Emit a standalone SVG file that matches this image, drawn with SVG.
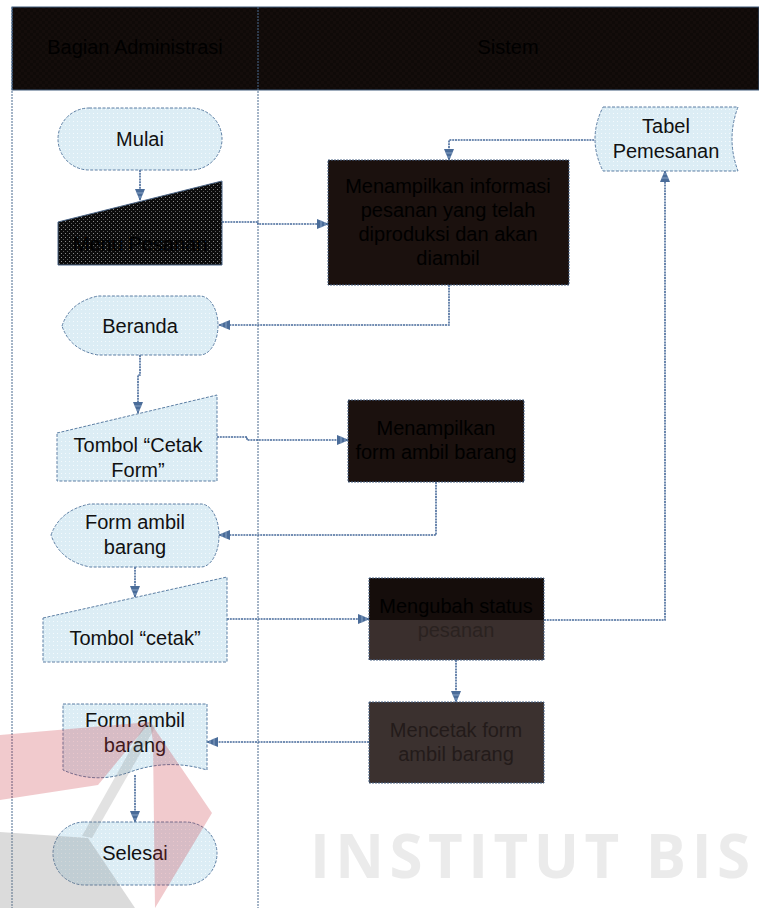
<svg xmlns="http://www.w3.org/2000/svg" width="759" height="908" viewBox="0 0 759 908">
  <defs>
    <pattern id="dotsLight" width="4" height="4" patternUnits="userSpaceOnUse">
      <rect width="4" height="4" fill="#dcedf5"/>
      <rect x="1" y="1" width="1" height="1" fill="#f4fafd"/>
    </pattern>
    <pattern id="dotsDark" width="4" height="4" patternUnits="userSpaceOnUse">
      <rect width="4" height="4" fill="#0c0c0c"/>
      <rect x="1" y="1" width="1" height="1" fill="#8a8a8a"/>
      <rect x="3" y="3" width="1" height="1" fill="#5a5a5a"/>
    </pattern>
    <pattern id="checkHead" width="6" height="6" patternUnits="userSpaceOnUse">
      <rect width="6" height="6" fill="#0f0a08"/>
      <rect x="0" y="0" width="3" height="3" fill="#140d0b"/>
      <rect x="3" y="3" width="3" height="3" fill="#140d0b"/>
    </pattern>
    <marker id="arrow" viewBox="0 0 12 10" refX="11" refY="5" markerWidth="12" markerHeight="10" markerUnits="userSpaceOnUse" orient="auto">
      <path d="M0 0 L12 5 L0 10 Z" fill="#4a6c99"/>
      <path d="M4 1.5 V8.5 M8 3 V7" stroke="#9db4d0" stroke-width="0.8"/>
    </marker>
    <style>
      .lane { stroke: #4b6a8f; stroke-width: 1; stroke-dasharray: 2 1; fill: none; }
      .light { fill: url(#dotsLight); stroke: #5d7fa4; stroke-width: 1; stroke-dasharray: 3 1.5; }
      .proc { stroke: #4a6486; stroke-width: 1; stroke-dasharray: 2 1; }
      .conn { fill: none; stroke: #46699a; stroke-width: 1.6; stroke-dasharray: 2 0.8; marker-end: url(#arrow); }
      .lbl { font-family: "Liberation Sans", Arial, sans-serif; font-size: 20px; fill: #111; text-anchor: middle; }
      .dk { fill: #000; }
    </style>
  </defs>

  <rect width="759" height="908" fill="#ffffff"/>

  <!-- swimlane header and lanes -->
  <g id="lanes">
    <rect x="12" y="7" width="747" height="83" fill="url(#checkHead)" stroke="#3e5a7a" stroke-width="1"/>
    <line class="lane" x1="12" y1="7" x2="12" y2="908"/>
    <line class="lane" x1="258" y1="7" x2="258" y2="908"/>
    <text class="lbl dk" x="135" y="54">Bagian Administrasi</text>
    <text class="lbl dk" x="508" y="54">Sistem</text>
  </g>

  <!-- connectors -->
  <g id="connectors">
    <path class="conn" d="M140 170 V200"/>
    <path class="conn" d="M222 222 H258 V224 H328"/>
    <path class="conn" d="M597 140 H449 V160"/>
    <path class="conn" d="M449 285 V325 H219"/>
    <path class="conn" d="M140 355 V375 H138 V413"/>
    <path class="conn" d="M217 437 H247 V440 H348"/>
    <path class="conn" d="M436 482 V535 H219"/>
    <path class="conn" d="M135 567 V597"/>
    <path class="conn" d="M227 619 H369"/>
    <path class="conn" d="M544 620 H665 V171"/>
    <path class="conn" d="M456 660 V702"/>
    <path class="conn" d="M369 742 H207"/>
    <path class="conn" d="M135 775 V822"/>
  </g>

  <g id="mulai">
    <rect class="light" x="58" y="108" width="164" height="62" rx="31" ry="31"/>
    <text class="lbl" x="140" y="146">Mulai</text>
  </g>

  <g id="menu-pesanan">
    <path d="M58 222 L222 181 V265 H58 Z" fill="url(#dotsDark)" stroke="#4a6486" stroke-width="1"/>
    <text class="lbl dk" x="140" y="251">Menu Pesanan</text>
  </g>

  <g id="tampil-informasi">
    <rect class="proc" x="328" y="160" width="241" height="125" fill="#1b110e"/>
    <text class="lbl dk" x="448" y="193">Menampilkan informasi</text>
    <text class="lbl dk" x="448" y="217">pesanan yang telah</text>
    <text class="lbl dk" x="448" y="241">diproduksi dan akan</text>
    <text class="lbl dk" x="448" y="265">diambil</text>
  </g>

  <g id="tabel-pemesanan">
    <path class="light" d="M603 107 H738 Q726 139 738 171 H603 Q587 139 603 107 Z"/>
    <text class="lbl" x="666" y="133">Tabel</text>
    <text class="lbl" x="666" y="158">Pemesanan</text>
  </g>

  <g id="beranda">
    <path class="light" d="M62 326 Q70 302 98 296 H200 A18 29.5 0 0 1 200 355 H98 Q70 350 62 326 Z"/>
    <text class="lbl" x="140" y="333">Beranda</text>
  </g>

  <g id="tombol-cetak-form">
    <path class="light" d="M57 433 L217 395 V481 H57 Z"/>
    <text class="lbl" x="138" y="452">Tombol “Cetak</text>
    <text class="lbl" x="138" y="477">Form”</text>
  </g>

  <g id="tampil-form">
    <rect class="proc" x="348" y="400" width="176" height="82" fill="#1b110e"/>
    <text class="lbl dk" x="436" y="435">Menampilkan</text>
    <text class="lbl dk" x="436" y="459">form ambil barang</text>
  </g>

  <g id="form-ambil-barang">
    <path class="light" d="M51 535 Q60 510 90 504 H201 A18 31.5 0 0 1 201 567 H90 Q60 561 51 535 Z"/>
    <text class="lbl" x="135" y="529">Form ambil</text>
    <text class="lbl" x="135" y="554">barang</text>
  </g>

  <g id="tombol-cetak">
    <path class="light" d="M43 618 L227 577 V662 H43 Z"/>
    <text class="lbl" x="135" y="645">Tombol “cetak”</text>
  </g>

  <g id="ubah-status">
    <rect x="369" y="578" width="175" height="42" fill="#150d0b"/>
    <rect x="369" y="620" width="175" height="40" fill="#3a2f2d"/>
    <rect class="proc" x="369" y="578" width="175" height="82" fill="none"/>
    <text class="lbl dk" x="456" y="613">Mengubah status</text>
    <text class="lbl" x="456" y="637" fill="#2a2220" style="fill:#2a2220">pesanan</text>
  </g>

  <g id="cetak-form">
    <rect class="proc" x="369" y="702" width="175" height="81" fill="#3b312f"/>
    <text class="lbl" x="456" y="737" style="fill:#231b1a">Mencetak form</text>
    <text class="lbl" x="456" y="761" style="fill:#231b1a">ambil barang</text>
  </g>

  <g id="dokumen-form">
    <path class="light" d="M63 704 H207 V770 C180 762 155 763 130 772 C108 780 85 780 63 770 Z"/>
    <text class="lbl" x="135" y="727">Form ambil</text>
    <text class="lbl" x="135" y="752">barang</text>
  </g>

  <g id="selesai">
    <rect class="light" x="53" y="822" width="164" height="63" rx="31.5" ry="31.5"/>
    <text class="lbl" x="135" y="860">Selesai</text>
  </g>

  <!-- faint logo and name printed over the page -->
  <g id="watermark">
    <polygon points="0,735 150,722 98,785 0,800" fill="#c8323e" opacity="0.26"/>
    <polygon points="150,722 212,813 155,908 153,742" fill="#c8323e" opacity="0.26"/>
    <polygon points="146,722 156,726 92,838 82,836" fill="#7d7d7d" opacity="0.22"/>
    <polygon points="0,832 88,838 135,908 0,908" fill="#7d7d7d" opacity="0.28"/>
    <text x="310" y="878" textLength="440" lengthAdjust="spacing" font-family="'Open Sans', 'DejaVu Sans', sans-serif" font-weight="bold" font-size="60" fill="#ebebeb">INSTITUT BIS</text>
  </g>
</svg>
